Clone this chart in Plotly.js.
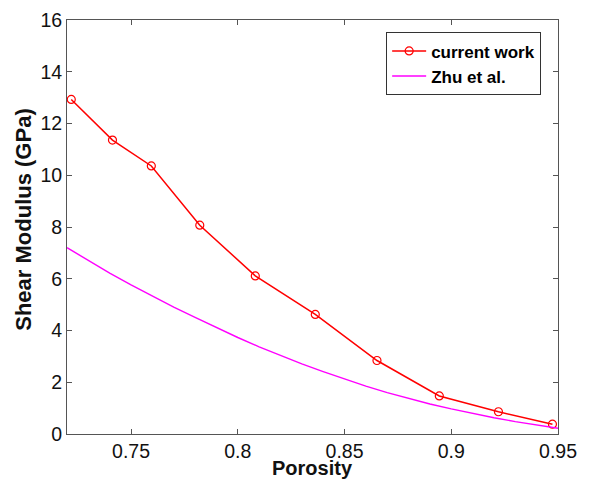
<!DOCTYPE html>
<html>
<head>
<meta charset="utf-8">
<script src="https://cdn.plot.ly/plotly-3.0.1.min.js"></script>
<style>html,body{margin:0;padding:0;background:#fff;}</style>
</head>
<body>
<div id="chart" style="width:590px;height:479px;"></div>
<script>
// current work (red, circle markers)
const currentPorosity = [0.722, 0.7413, 0.7595, 0.7822, 0.8082, 0.8363, 0.8652, 0.8944, 0.9221, 0.9474];
const currentModulus  = [12.93, 11.36, 10.36, 8.07, 6.11, 4.62, 2.84, 1.47, 0.86, 0.38];

// Zhu et al. (magenta curve)
const zhuPorosity = [0.72, 0.73, 0.74, 0.75, 0.76, 0.77, 0.78, 0.79, 0.80, 0.81, 0.82, 0.83,
                     0.84, 0.85, 0.86, 0.87, 0.88, 0.89, 0.90, 0.91, 0.92, 0.93, 0.94, 0.95];
const zhuModulus  = [7.2, 6.7, 6.22, 5.76, 5.32, 4.9, 4.51, 4.11, 3.73, 3.37, 3.03, 2.71,
                     2.41, 2.12, 1.85, 1.6, 1.37, 1.16, 0.97, 0.79, 0.63, 0.48, 0.34, 0.22];

const xTicks = [0.75, 0.8, 0.85, 0.9, 0.95];
const xTickText = ["0.75", "0.8", "0.85", "0.9", "0.95"];
const yTicks = [0, 2, 4, 6, 8, 10, 12, 14, 16];
const xTitle = "Porosity";
const yTitle = "Shear Modulus (GPa)";

const FONT = "Liberation Sans, Arial, sans-serif";

const traces = [
  {
    x: currentPorosity, y: currentModulus, name: "current work",
    type: "scatter", mode: "lines+markers",
    line: {color: "#ff0000", width: 1.5},
    marker: {symbol: "circle-open", size: 8, color: "#ff0000", line: {width: 1.2}}
  },
  {
    x: zhuPorosity, y: zhuModulus, name: "Zhu et al.",
    type: "scatter", mode: "lines", line: {color: "#ff00ff", width: 1.4}
  }
];

const axisCommon = {
  showgrid: false, zeroline: false, showline: true, mirror: "ticks",
  linecolor: "#555555", linewidth: 1,
  ticks: "inside", ticklen: 5, tickcolor: "#555555",
  tickfont: {family: FONT, size: 19.5, color: "#111"}
};

const layout = {
  width: 590, height: 479,
  margin: {l: 67, r: 32, t: 20, b: 45},
  paper_bgcolor: "#ffffff", plot_bgcolor: "#ffffff",
  showlegend: true,
  legend: {
    x: 0.65, y: 0.97, xanchor: "left", yanchor: "top",
    bgcolor: "#ffffff", bordercolor: "#333333", borderwidth: 1,
    font: {family: FONT, size: 17, color: "#000", weight: "bold"},
    tracegroupgap: 0, itemwidth: 34
  },
  xaxis: Object.assign({}, axisCommon, {
    range: [0.72, 0.95], tickvals: xTicks, ticktext: xTickText
  }),
  yaxis: Object.assign({}, axisCommon, {
    range: [0, 16], tickvals: yTicks
  }),
  annotations: [
    {text: "<b>" + xTitle + "</b>", xref: "paper", yref: "paper", x: 0.5, y: -0.081,
     xanchor: "center", yanchor: "middle", showarrow: false, borderpad: 0,
     font: {family: FONT, size: 20, color: "#111"}},
    {text: "<b>" + yTitle + "</b>", xref: "paper", yref: "paper", x: -0.088, y: 0.517,
     xanchor: "center", yanchor: "middle", showarrow: false, textangle: -90, borderpad: 0,
     font: {family: FONT, size: 22, color: "#111"}}
  ]
};

Plotly.newPlot("chart", traces, layout, {displayModeBar: false, staticPlot: true});
</script>
</body>
</html>
